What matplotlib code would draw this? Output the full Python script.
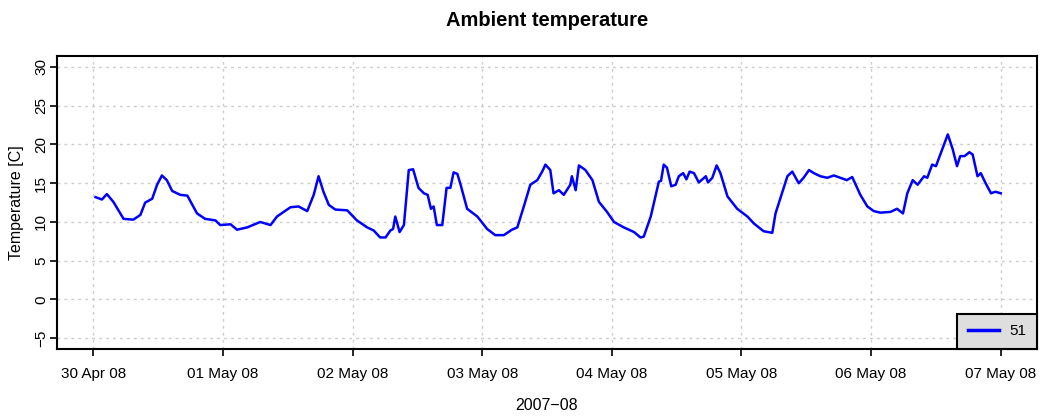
import datetime as dt
import numpy as np
import matplotlib
matplotlib.use("Agg")
import matplotlib.pyplot as plt
import matplotlib.dates as mdates

plt.rcParams['font.family'] = ['Liberation Sans', 'DejaVu Sans']

# hours since 30 Apr 2008 00:00
hours = [0.4, 1.6, 2.5, 3.7, 5.6, 7.4, 8.7, 9.6, 10.9, 11.8, 12.7, 13.6, 14.6,
         16.1, 17.4, 19.2, 20.7, 22.6, 23.5, 25.4, 26.6, 28.5, 30.9, 32.8,
         34.0, 36.5, 38.0, 39.6, 40.8, 41.7, 42.6, 43.6, 44.8, 47.0, 48.8,
         50.7, 51.9, 53.1, 54.1, 55.0, 55.5, 55.9, 56.7, 57.5, 58.4, 59.2,
         60.2, 61.2, 61.9, 62.5, 63.0, 63.6, 64.6, 65.4, 66.1, 66.7, 67.4,
         68.0, 69.2, 71.1, 72.9, 74.4, 76.0, 77.5, 78.5, 79.7, 80.9, 82.2,
         83.1, 83.7, 84.6, 85.2, 86.2, 87.1, 88.3, 88.6, 89.3, 89.9, 91.1,
         92.4, 93.6, 95.1, 96.4, 98.2, 100.1, 101.3, 101.9, 103.2, 104.7,
         105.1, 105.6, 106.2, 107.0, 107.8, 108.4, 109.2, 109.8, 110.4,
         111.2, 112.1, 113.4, 113.8, 114.6, 115.4, 116.1, 117.4, 119.2,
         121.1, 122.3, 124.1, 125.7, 126.3, 127.5, 128.5, 129.4, 130.6,
         131.5, 132.5, 133.4, 134.6, 135.9, 137.1, 138.3, 139.5, 140.5,
         142.0, 143.3, 144.5, 145.7, 147.6, 148.8, 149.9, 150.7, 151.7,
         152.6, 153.8, 154.4, 155.3, 156.0, 158.2, 159.1, 159.9, 160.5,
         161.3, 162.2, 162.8, 163.7, 164.3, 165.2, 166.2, 167.0, 168.0]
temps = [13.2, 12.9, 13.6, 12.6, 10.4, 10.3, 10.9, 12.5, 13.0, 14.8, 16.0,
         15.4, 14.0, 13.5, 13.4, 11.1, 10.4, 10.2, 9.6, 9.7, 9.0, 9.3, 10.0,
         9.6, 10.7, 11.9, 12.0, 11.4, 13.5, 15.9, 13.9, 12.2, 11.6, 11.5,
         10.2, 9.3, 8.9, 8.0, 8.0, 8.9, 9.1, 10.7, 8.7, 9.6, 16.7, 16.8,
         14.4, 13.7, 13.5, 11.7, 12.0, 9.6, 9.6, 14.4, 14.4, 16.4, 16.2,
         14.8, 11.7, 10.7, 9.1, 8.3, 8.3, 9.0, 9.3, 12.0, 14.8, 15.4, 16.5,
         17.4, 16.7, 13.7, 14.1, 13.5, 14.8, 15.9, 14.1, 17.3, 16.7, 15.4,
         12.6, 11.3, 10.0, 9.3, 8.7, 8.0, 8.1, 10.7, 15.2, 15.3, 17.4, 17.0,
         14.6, 14.8, 15.9, 16.3, 15.5, 16.5, 16.3, 15.1, 15.9, 15.1, 15.7,
         17.3, 16.3, 13.3, 11.7, 10.7, 9.8, 8.8, 8.6, 11.1, 13.7, 15.9,
         16.5, 15.0, 15.7, 16.7, 16.3, 15.9, 15.7, 16.0, 15.7, 15.4, 15.8,
         13.5, 12.0, 11.4, 11.2, 11.3, 11.7, 11.1, 13.7, 15.4, 14.8, 15.9,
         15.7, 17.4, 17.2, 21.3, 19.4, 17.2, 18.5, 18.5, 19.0, 18.7, 15.9,
         16.3, 15.0, 13.7, 13.9, 13.7]
series_name = "51"

start = dt.datetime(2008, 4, 30)
times = [start + dt.timedelta(hours=h) for h in hours]

fig = plt.figure(figsize=(10.41, 4.19), dpi=100)
ax = fig.add_axes([0.0548, 0.167, 0.9414, 0.699])

ax.plot(times, temps, color='#0000ff', lw=1.8, label=series_name)

ax.set_xlim(start - dt.timedelta(days=0.28), start + dt.timedelta(days=7.28))
ax.set_ylim(-6.4, 31.4)
ax.set_yticks(np.arange(-5, 31, 5))
ax.xaxis.set_major_locator(mdates.DayLocator())
ax.xaxis.set_major_formatter(mdates.DateFormatter('%d %b %y'))

ax.grid(True, color='#cccccc', linestyle=(0, (2, 3)), lw=1.0)
ax.set_axisbelow(True)

for s in ax.spines.values():
    s.set_linewidth(1.5)
ax.tick_params(axis='both', direction='out', length=5, width=1.2,
               labelsize=11, colors='black')
ax.tick_params(axis='x', pad=8)
ax.tick_params(axis='y', pad=1.5)
for lab in ax.get_yticklabels():
    lab.set_rotation(90)
    lab.set_va('center')

ax.set_ylabel('Temperature [C]', fontsize=11.5, labelpad=7)
ax.set_xlabel('2007\u221208', fontsize=11.5, labelpad=12)
ax.set_title('Ambient temperature', fontsize=14.5, fontweight='bold', pad=22)

leg = ax.legend(loc='lower right', fancybox=False, facecolor='#dedede',
                edgecolor='black', framealpha=1, borderaxespad=0,
                fontsize=11, handlelength=2.0, borderpad=0.7,
                handletextpad=0.7)
leg.get_frame().set_linewidth(1.5)
for line in leg.get_lines():
    line.set_linewidth(2.5)

fig.savefig('out.png', dpi=100)
